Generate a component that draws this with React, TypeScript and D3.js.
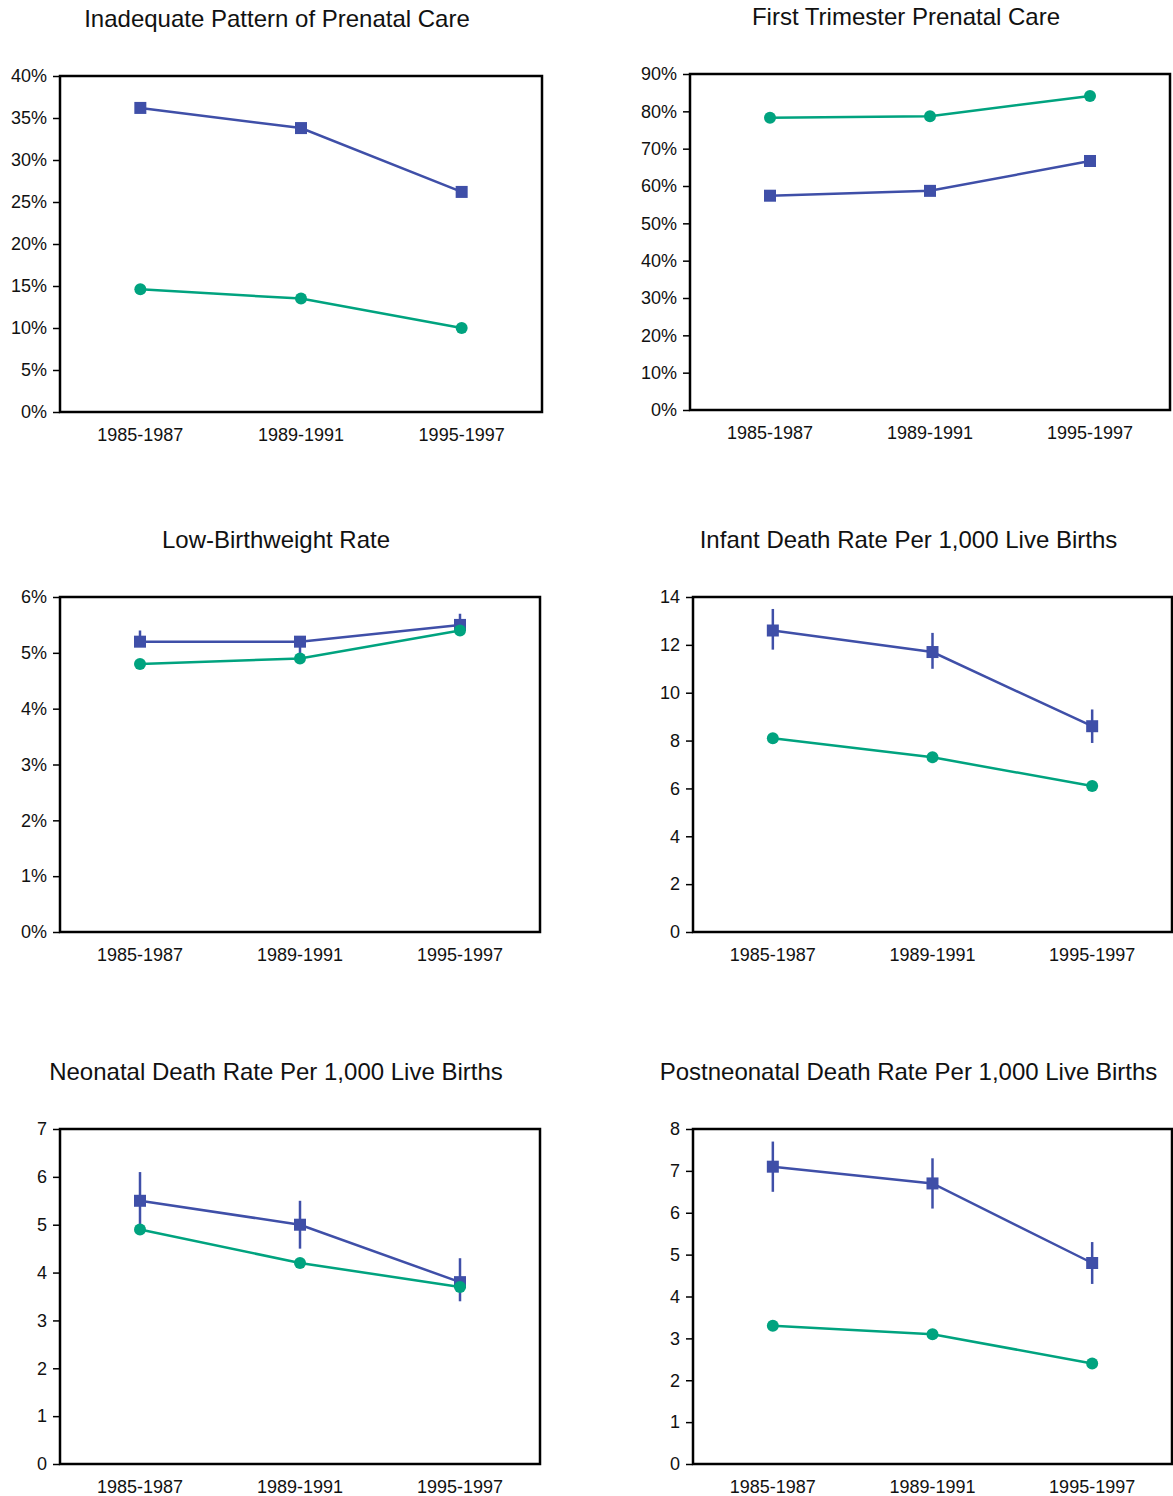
import * as d3 from "d3";
import React, { useEffect, useRef } from "react";

// shared categories
const periods = ["1985-1987", "1989-1991", "1995-1997"];

// Inadequate Pattern of Prenatal Care (%)
const inadequateBlue = [36.2, 33.8, 26.2];
const inadequateGreen = [14.6, 13.5, 10.0];
const inadequateTicks = [0, 5, 10, 15, 20, 25, 30, 35, 40];

// First Trimester Prenatal Care (%)
const firstTriBlue = [57.4, 58.7, 66.7];
const firstTriGreen = [78.3, 78.7, 84.1];
const firstTriTicks = [0, 10, 20, 30, 40, 50, 60, 70, 80, 90];

// Low-Birthweight Rate (%)
const lbwBlue = [5.2, 5.2, 5.5];
const lbwBlueLow = [5.2, 4.95, 5.5];
const lbwBlueHigh = [5.4, 5.2, 5.7];
const lbwGreen = [4.8, 4.9, 5.4];
const lbwTicks = [0, 1, 2, 3, 4, 5, 6];

// Infant Death Rate Per 1,000 Live Births
const infantBlue = [12.6, 11.7, 8.6];
const infantBlueLow = [11.8, 11.0, 7.9];
const infantBlueHigh = [13.5, 12.5, 9.3];
const infantGreen = [8.1, 7.3, 6.1];
const infantTicks = [0, 2, 4, 6, 8, 10, 12, 14];

// Neonatal Death Rate Per 1,000 Live Births
const neoBlue = [5.5, 5.0, 3.8];
const neoBlueLow = [4.9, 4.5, 3.4];
const neoBlueHigh = [6.1, 5.5, 4.3];
const neoGreen = [4.9, 4.2, 3.7];
const neoTicks = [0, 1, 2, 3, 4, 5, 6, 7];

// Postneonatal Death Rate Per 1,000 Live Births
const postBlue = [7.1, 6.7, 4.8];
const postBlueLow = [6.5, 6.1, 4.3];
const postBlueHigh = [7.7, 7.3, 5.3];
const postGreen = [3.3, 3.1, 2.4];
const postTicks = [0, 1, 2, 3, 4, 5, 6, 7, 8];

const BLUE = "#3f4fa8";
const GREEN = "#00a37f";
const FONT = "'Liberation Sans', Arial, sans-serif";

const panels = [
  { title: "Inadequate Pattern of Prenatal Care", blue: inadequateBlue, green: inadequateGreen, ticks: inadequateTicks, pct: true, box: [60, 76, 542, 412] },
  { title: "First Trimester Prenatal Care", blue: firstTriBlue, green: firstTriGreen, ticks: firstTriTicks, pct: true, box: [690, 74, 1170, 410] },
  { title: "Low-Birthweight Rate", blue: lbwBlue, low: lbwBlueLow, high: lbwBlueHigh, green: lbwGreen, ticks: lbwTicks, pct: true, box: [60, 597, 540, 932] },
  { title: "Infant Death Rate Per 1,000 Live Births", blue: infantBlue, low: infantBlueLow, high: infantBlueHigh, green: infantGreen, ticks: infantTicks, pct: false, box: [693, 597, 1172, 932] },
  { title: "Neonatal Death Rate Per 1,000 Live Births", blue: neoBlue, low: neoBlueLow, high: neoBlueHigh, green: neoGreen, ticks: neoTicks, pct: false, box: [60, 1129, 540, 1464] },
  { title: "Postneonatal Death Rate Per 1,000 Live Births", blue: postBlue, low: postBlueLow, high: postBlueHigh, green: postGreen, ticks: postTicks, pct: false, box: [693, 1129, 1172, 1464] },
];

const App = () => {
  const ref = useRef<SVGSVGElement | null>(null);

  useEffect(() => {
    const svg = d3.select(ref.current);
    svg.selectAll("*").remove();

    panels.forEach((p) => {
      const [x0, y0, x1, y1] = p.box;
      const g = svg.append("g");

      const x = d3.scaleBand().domain(periods).range([x0, x1]).padding(0);
      const y = d3.scaleLinear().domain([0, p.ticks[p.ticks.length - 1]]).range([y1, y0]);
      const cx = (i) => x(periods[i]) + x.bandwidth() / 2;

      // title (sits a bit left of the frame centre)
      g.append("text")
        .attr("x", (x0 + x1) / 2 - 24)
        .attr("y", y0 - 49)
        .attr("text-anchor", "middle")
        .style("font-family", FONT)
        .style("font-size", "24px")
        .attr("fill", "#111")
        .text(p.title);

      // y axis
      const yAxis = d3.axisLeft(y)
        .tickValues(p.ticks)
        .tickSize(7)
        .tickPadding(6)
        .tickFormat((d) => (p.pct ? `${d}%` : `${d}`));
      const ay = g.append("g").attr("transform", `translate(${x0},0)`).call(yAxis);
      ay.select(".domain").remove();
      ay.selectAll("line").attr("stroke", "#000").attr("stroke-width", 1.5);
      ay.selectAll("text")
        .style("font-family", FONT)
        .style("font-size", "18px")
        .attr("fill", "#111");

      // x labels
      g.selectAll(".xl")
        .data(periods)
        .enter()
        .append("text")
        .attr("x", (d) => x(d) + x.bandwidth() / 2)
        .attr("y", y1 + 29)
        .attr("text-anchor", "middle")
        .style("font-family", FONT)
        .style("font-size", "18px")
        .attr("fill", "#111")
        .text((d) => d);

      // plot frame
      g.append("rect")
        .attr("x", x0)
        .attr("y", y0)
        .attr("width", x1 - x0)
        .attr("height", y1 - y0)
        .attr("fill", "none")
        .attr("stroke", "#000")
        .attr("stroke-width", 2.5);

      const line = d3.line().x((d, i) => cx(i)).y((d) => y(d));

      // blue series
      g.append("path")
        .attr("d", line(p.blue))
        .attr("fill", "none")
        .attr("stroke", BLUE)
        .attr("stroke-width", 2.5);

      if (p.low) {
        g.selectAll(".err")
          .data(p.blue)
          .enter()
          .append("line")
          .attr("x1", (d, i) => cx(i))
          .attr("x2", (d, i) => cx(i))
          .attr("y1", (d, i) => y(p.low[i]))
          .attr("y2", (d, i) => y(p.high[i]))
          .attr("stroke", BLUE)
          .attr("stroke-width", 2.5);
      }

      const sq = 12;
      g.selectAll(".sq")
        .data(p.blue)
        .enter()
        .append("rect")
        .attr("x", (d, i) => cx(i) - sq / 2)
        .attr("y", (d) => y(d) - sq / 2)
        .attr("width", sq)
        .attr("height", sq)
        .attr("fill", BLUE);

      // green series
      g.append("path")
        .attr("d", line(p.green))
        .attr("fill", "none")
        .attr("stroke", GREEN)
        .attr("stroke-width", 2.5);

      g.selectAll(".dot")
        .data(p.green)
        .enter()
        .append("circle")
        .attr("cx", (d, i) => cx(i))
        .attr("cy", (d) => y(d))
        .attr("r", 6)
        .attr("fill", GREEN);
    });
  }, []);

  return (
    <svg
      ref={ref}
      width={1173}
      height={1496}
      style={{ position: "absolute", left: 0, top: 0, background: "#fff" }}
    />
  );
};

export default App;
